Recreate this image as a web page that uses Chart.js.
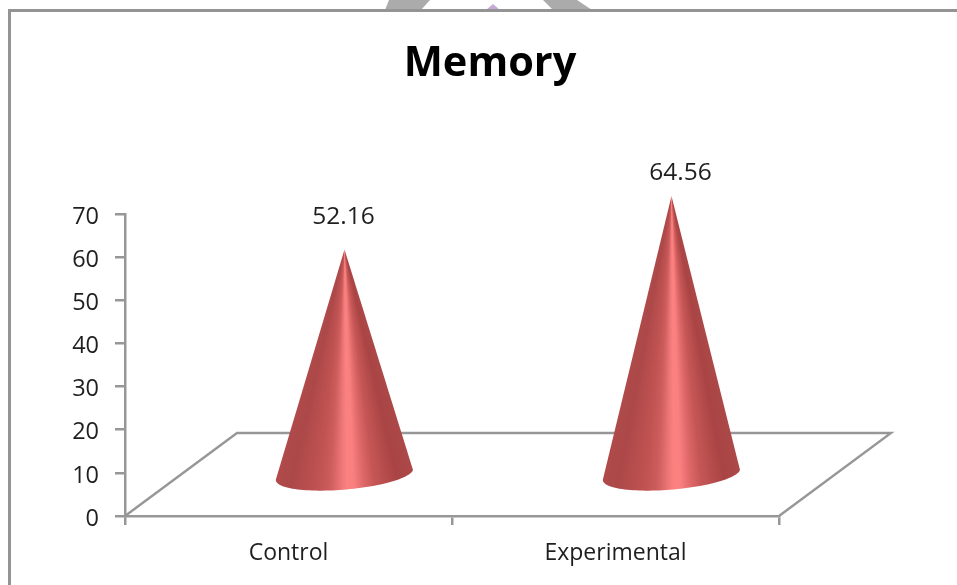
<!DOCTYPE html>
<html>
<head>
<meta charset="UTF-8">
<title>Memory</title>
<script src="https://cdn.jsdelivr.net/npm/chart.js@4"></script>
<style>
  html, body { margin: 0; background: #fff; }
  body { position: relative; width: 957px; height: 585px; overflow: hidden; }
  #myChart { position: absolute; left: 0; top: 0; }
  .frame { position: absolute; left: 8px; top: 9px; width: 960px; height: 600px; border: 3px solid #949494; }
  .mark { position: absolute; top: 0; left: 0; width: 957px; height: 10px; }
  #markA { background: #ababab; clip-path: polygon(389px 0, 430px 0, 421px 10px, 385px 10px); }
  #markB { background: #ababab; clip-path: polygon(543px 0, 577px 0, 592px 10px, 553px 10px); }
  #markC { background: #c6aad8; clip-path: polygon(493px 4px, 500px 10px, 486px 10px); }
</style>
</head>
<body>
<div class="mark" id="markA"></div>
<div class="mark" id="markB"></div>
<div class="mark" id="markC"></div>
<div class="frame"></div>
<canvas id="myChart" width="957" height="585"></canvas>

<script>
const categories = ["Control", "Experimental"];
const memoryValues = [52.16, 64.56];

const axisGray = "#979797";
const textColor = "#1f1f1f";
const fontName = "'Open Sans'";

// half the floor depth: cones stand in the middle of the floor
const depthX = 56;
const depthY = -41.5;
const labelGaps = [32, 23];
const labelShifts = [-1, 9];

// colour across the cone, left edge to right edge
const shade = [
  [0, [176, 74, 74]], [0.1, [172, 72, 72]], [0.3, [192, 82, 82]], [0.4, [206, 94, 94]], [0.47, [236, 116, 116]],
  [0.52, [252, 130, 130]], [0.57, [250, 128, 128]], [0.63, [226, 106, 106]], [0.72, [198, 86, 86]], [0.88, [170, 68, 68]], [1, [172, 72, 72]]
];

function shadeAt(u) {
  for (let i = 1; i < shade.length; i++) {
    if (u <= shade[i][0]) {
      const f = (u - shade[i - 1][0]) / (shade[i][0] - shade[i - 1][0]);
      const a = shade[i - 1][1], b = shade[i][1];
      return `rgb(${a.map((v, k) => Math.round(v + (b[k] - v) * f)).join(",")})`;
    }
  }
  return "rgb(172,72,72)";
}

function drawCone(ctx, cx, cy, tipY) {
  const halfW = 68.5;
  const basePoint = t => [
    cx + halfW * Math.cos(t) - 5 * Math.sin(t),
    cy - 4.5 * Math.cos(t) + 15.5 * Math.sin(t)
  ];
  // shading runs along the surface, so the bands meet at the tip
  const grad = ctx.createConicGradient(0, cx, tipY);
  const steps = 60;
  for (let i = 0; i <= steps; i++) {
    const t = Math.PI * i / steps;
    const p = basePoint(t);
    const angle = Math.atan2(p[1] - tipY, p[0] - cx);
    grad.addColorStop(angle / (Math.PI * 2), shadeAt((p[0] - cx + halfW) / (halfW * 2)));
  }
  ctx.fillStyle = grad;
  ctx.beginPath();
  ctx.moveTo(cx, tipY);
  for (let i = 0; i <= steps; i++) {
    const p = basePoint(Math.PI - Math.PI * i / steps);
    ctx.lineTo(p[0], p[1]);
  }
  ctx.closePath();
  ctx.fill();
}

const conePlugin = {
  id: "cones",
  afterLayout(chart) {
    // title sits right of the canvas middle in the original
    chart.titleBlock.left = 23;
    chart.titleBlock.right = 957;
  },
  beforeDatasetsDraw(chart) {
    const { ctx, chartArea: area } = chart;
    const backY = area.bottom + depthY * 2;
    ctx.save();
    ctx.strokeStyle = axisGray;
    ctx.lineWidth = 2.4;
    ctx.beginPath();
    ctx.moveTo(area.left, area.bottom);
    ctx.lineTo(area.left + depthX * 2, backY);
    ctx.lineTo(area.right + depthX * 2, backY);
    ctx.lineTo(area.right, area.bottom);
    ctx.stroke();
    ctx.restore();
  },
  afterDatasetsDraw(chart) {
    const { ctx, scales } = chart;
    const meta = chart.getDatasetMeta(0);
    const baseY = scales.y.getPixelForValue(0) + depthY;
    ctx.save();
    meta.data.forEach((bar, i) => {
      const cx = bar.x + depthX;
      const tipY = scales.y.getPixelForValue(memoryValues[i]) + depthY;
      drawCone(ctx, cx, baseY, tipY);
      ctx.fillStyle = textColor;
      ctx.font = `24.5px ${fontName}`;
      ctx.textAlign = "center";
      ctx.textBaseline = "middle";
      ctx.fillText(memoryValues[i].toFixed(2), cx + labelShifts[i], tipY - labelGaps[i]);
    });
    ctx.restore();
  }
};

new Chart("myChart", {
  type: "bar",
  data: {
    labels: categories,
    datasets: [{
      label: "Memory",
      data: memoryValues,
      backgroundColor: "transparent",
      borderWidth: 0
    }]
  },
  options: {
    responsive: false,
    animation: false,
    layout: { padding: { left: 0, right: 178, top: 0, bottom: 0 } },
    plugins: {
      legend: { display: false },
      tooltip: { enabled: false },
      title: {
        display: true,
        text: "Memory",
        color: "#000",
        font: { family: fontName, size: 41.5, weight: "bold", lineHeight: 1.2 },
        padding: { top: 39.5, bottom: 124.7 }
      }
    },
    scales: {
      x: {
        afterFit(scale) { scale.height = 69; },
        border: { color: axisGray, width: 2.5 },
        grid: { drawOnChartArea: false, color: axisGray, lineWidth: 2.5, tickLength: 9 },
        ticks: { color: textColor, font: { family: fontName, size: 23 }, padding: 15, maxRotation: 0 }
      },
      y: {
        min: 0,
        max: 70,
        afterFit(scale) { scale.width = 125; },
        border: { color: axisGray, width: 2.5 },
        grid: { drawOnChartArea: false, color: axisGray, lineWidth: 2.5, tickLength: 10 },
        ticks: { stepSize: 10, color: textColor, font: { family: fontName, size: 23.5 }, padding: 16, labelOffset: 3 }
      }
    }
  },
  plugins: [conePlugin]
});
</script>
</body>
</html>
